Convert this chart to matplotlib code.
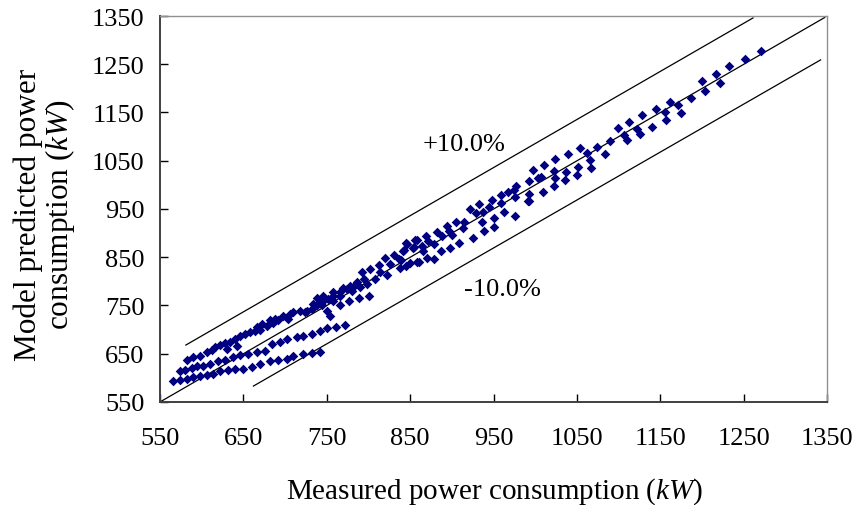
import matplotlib
matplotlib.use("Agg")
import matplotlib.pyplot as plt
import numpy as np

plt.rcParams['font.family'] = ['Liberation Serif', 'DejaVu Serif']
plt.rcParams['mathtext.fontset'] = 'custom'
plt.rcParams['mathtext.it'] = 'Liberation Serif:italic'
plt.rcParams['mathtext.rm'] = 'Liberation Serif'

# measured (x) vs model predicted (y) power, kW
meas_kw = [
    # lowest stripe
    566, 574, 582, 590, 598, 606, 614, 622, 632, 640, 650, 660, 670, 682, 692, 702, 710, 722, 732, 742,
    # middle stripe
    574, 580, 588, 594, 602, 610, 619, 628, 637, 646, 655, 666, 676, 684, 694, 702, 714, 722, 732, 742, 750, 761, 772,
    # upper stripe running into the main band
    582, 590, 598, 606, 612, 616, 622, 628, 630, 634, 640, 642, 646, 652, 658, 664, 666, 670, 672, 678,
    682, 686, 688, 692, 698, 704, 706, 710, 718, 724, 726, 732, 734, 738, 738, 744, 744, 746, 750, 752,
    754, 758, 758, 758, 766, 766, 766, 770, 774, 776, 778, 780, 782, 786, 788, 790, 792, 794, 798, 800,
    802, 808, 813, 814, 820, 822, 826, 830, 836, 838, 842, 846, 854, 858, 858,
    # main band
    839, 841, 845, 845, 850, 853, 856, 860, 864, 865, 869, 870, 871, 878, 878, 882, 887, 888, 894, 897,
    898, 900, 905, 908, 913, 914, 922, 925, 929, 933, 936, 937, 938, 945, 948, 950, 950, 959, 959, 962,
    967, 975, 976, 976, 977, 991, 993, 993,
    993, 997, 1003, 1007, 1009, 1010, 1022, 1022, 1023, 1024, 1036, 1037, 1039, 1050, 1051, 1054, 1062, 1066,
    1067, 1074, 1083, 1090, 1099, 1106, 1110, 1112, 1122, 1125, 1128,
    1140, 1145, 1156, 1157, 1162, 1171, 1175, 1187, 1200, 1204, 1217, 1221, 1232, 1251, 1270,
]
pred_kw = [
    594, 596, 598, 601, 603, 606, 608, 615, 617, 618, 618, 622, 629, 634, 636, 639, 646, 650, 652, 654,
    615, 617, 620, 624, 625, 629, 634, 638, 643, 647, 650, 654, 656, 670, 675, 681, 684, 686, 691, 698, 703, 705, 710,
    638, 643, 646, 654, 658, 663, 668, 672, 660, 675, 681, 667, 687, 691, 695, 698, 705, 700, 712, 708,
    719, 713, 722, 719, 729, 722, 732, 736, 739, 736, 739, 743, 753, 750, 765, 757, 750, 770, 739, 764,
    728, 760, 770, 777, 751, 770, 777, 786, 784, 760, 791, 781, 791, 798, 766, 788, 819, 805, 795, 770,
    826, 805, 833, 819, 848, 813, 836, 855, 846, 827, 864, 878, 871, 840, 886,
    845, 862, 880, 831, 838, 869, 886, 840, 874, 862, 893, 848, 883, 846, 878, 902, 862, 895, 915, 905,
    869, 896, 924, 880, 910, 922, 950, 890, 941, 960, 922, 944, 905, 954, 969, 912, 931, 962, 979, 944,
    986, 990, 936, 974, 997, 966, 981, 1007,
    967, 1031, 1014, 1017, 985, 1042, 998, 1029, 1053, 1014, 1010, 1027, 1064, 1020, 1038, 1076, 1066, 1051,
    1035, 1078, 1063, 1090, 1118, 1104, 1092, 1131, 1116, 1106, 1145,
    1120, 1158, 1152, 1135, 1171, 1166, 1149, 1181, 1215, 1195, 1229, 1211, 1246, 1260, 1277,
]

# reference lines: 1:1 and the +/-10% band
ref_x = [550, 1347]
ref_y = [550, 1347]
upper_x = [581, 1261]
upper_y = [668, 1346]
lower_x = [662, 1342]
lower_y = [583, 1259]

ticks = np.arange(550, 1351, 100)

fig = plt.figure(figsize=(8.57, 5.06), dpi=100)
ax = fig.add_axes([0.1867, 0.2036, 0.7786, 0.7628])

ax.plot(ref_x, ref_y, color='black', lw=0.9)
ax.plot(upper_x, upper_y, color='black', lw=0.9)
ax.plot(lower_x, lower_y, color='black', lw=0.9)
ax.scatter(meas_kw, pred_kw, marker='D', s=24, color='#000080', linewidths=0, zorder=3)

ax.text(915, 1085, '+10.0%', fontsize=19, ha='center', va='center')
ax.text(960, 784, '-10.0%', fontsize=19, ha='center', va='center')

ax.set_xlim(550, 1350)
ax.set_ylim(550, 1350)
ax.set_xticks(ticks)
ax.set_yticks(ticks)
ax.tick_params(direction='in', length=6, width=1, labelsize=19)
ax.tick_params(axis='x', pad=18)
ax.tick_params(axis='y', pad=11)

for side in ['left', 'bottom']:
    ax.spines[side].set_color('#404040')
    ax.spines[side].set_linewidth(1.4)
for side in ['top', 'right']:
    ax.spines[side].set_color('#909090')
    ax.spines[side].set_linewidth(1.0)

ax.set_xlabel('Measured power consumption ($kW$)', fontsize=21)
ax.set_ylabel('Model predicted power\nconsumption ($kW$)', fontsize=22.5, linespacing=1.0)
ax.xaxis.set_label_coords(0.502, -0.19)
ax.yaxis.label.set_va('center')
ax.yaxis.set_label_coords(-0.172, 0.487)

fig.savefig('out.png', dpi=100)
